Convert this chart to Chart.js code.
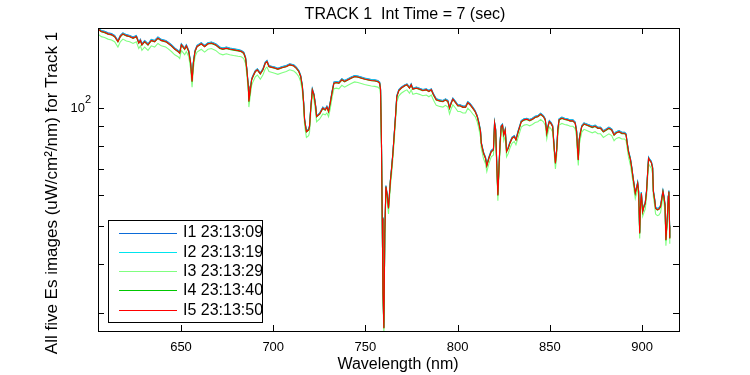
<!DOCTYPE html>
<html>
<head>
<meta charset="utf-8">
<script src="https://cdn.jsdelivr.net/npm/chart.js@4.4.0/dist/chart.umd.min.js"></script>
<style>
  html, body { margin: 0; padding: 0; background: #fff; }
</style>
</head>
<body>
<canvas id="esChart" width="750" height="375"></canvas>
<script>
// wavelength (nm) shared by all five images
const wavelength = [
  605.0,606.8,608.6,610.4,612.3,614.0,615.8,617.1,618.5,620.4,
  622.2,624.0,625.8,627.1,628.0,628.8,630.3,632.1,633.9,635.7,
  637.5,639.3,641.7,642.9,644.8,646.6,648.4,649.3,650.2,652.0,
  652.9,654.2,655.2,656.0,656.7,657.6,658.7,661.0,662.8,664.6,
  666.5,668.8,671.0,672.7,674.6,676.4,678.5,680.9,682.7,684.0,
  685.0,685.7,686.5,686.8,687.6,688.3,689.0,690.3,691.4,693.0,
  694.4,695.7,696.6,697.7,699.0,700.8,702.5,704.9,707.1,708.9,
  711.1,712.5,713.9,714.9,715.8,716.5,717.0,718.0,719.2,719.7,
  720.3,721.2,722.1,723.0,723.5,725.2,726.9,728.2,729.1,730.0,
  730.9,732.0,732.9,734.2,735.6,737.2,738.7,740.5,742.3,744.1,
  745.9,747.7,749.5,751.3,753.2,755.0,756.7,757.7,758.2,758.7,
  759.1,759.5,760.0,760.5,761.1,761.8,762.5,763.5,764.2,764.9,
  765.6,766.3,767.0,768.1,769.4,771.2,772.5,773.9,774.8,775.7,
  777.6,779.3,781.1,783.0,784.4,785.7,786.9,788.4,790.2,792.0,
  793.4,794.7,795.6,796.5,797.4,798.9,800.1,801.4,802.8,804.3,
  805.5,806.8,808.2,809.5,810.6,811.5,812.4,812.8,814.0,815.1,
  815.8,816.9,818.2,819.4,820.0,820.6,821.3,821.8,822.5,823.0,
  823.6,824.3,825.0,825.8,826.5,827.4,828.3,829.5,830.7,831.6,
  832.8,834.5,836.0,837.5,839.0,840.5,842.0,843.5,845.0,846.5,
  847.5,848.3,849.0,849.7,850.5,851.5,852.4,853.0,853.7,854.3,
  855.0,856.5,858.0,859.5,861.0,862.5,863.7,864.5,865.0,865.4,
  865.9,866.5,867.3,868.5,870.0,871.5,873.0,874.5,876.0,877.5,
  879.0,880.5,882.0,883.5,884.8,886.0,887.5,889.0,890.5,891.3,
  891.9,892.6,893.7,894.4,895.0,895.5,896.3,897.0,897.6,898.1,
  898.7,899.0,899.6,900.3,901.0,901.7,902.4,903.0,903.5,904.0,
  905.0,905.7,906.1,906.8,907.3,908.3,909.1,910.0,910.7,911.3,
  911.8,912.4,912.9,913.7,914.2,914.5,914.9,915.0
];

const i1Values = [
  160.0,157.7,156.9,155.5,154.8,153.2,148.7,153.2,155.5,153.9,
  153.2,151.7,153.2,147.4,149.7,145.9,148.7,145.9,149.7,148.7,
  151.7,149.7,148.7,147.4,145.0,142.3,140.3,138.9,145.9,142.3,
  145.0,140.3,131.1,117.6,131.1,140.3,144.5,146.8,144.5,146.8,
  147.4,145.9,143.1,142.3,143.1,142.3,141.7,141.1,140.3,138.9,
  134.9,125.9,114.1,104.6,112.0,118.8,121.1,124.7,125.9,123.0,
  125.9,131.1,132.3,128.4,127.9,127.2,126.4,127.6,128.4,129.7,
  128.9,127.2,124.7,121.1,114.1,103.6,93.9,87.6,88.5,90.3,
  99.5,112.0,108.7,101.6,95.7,97.2,100.6,99.5,101.2,98.5,
  103.6,110.9,116.5,116.9,116.5,118.8,117.6,118.8,120.0,121.1,
  120.7,120.0,119.3,118.8,118.3,118.1,117.6,116.5,112.0,81.1,
  52.7,33.9,27.7,48.3,63.5,60.4,56.0,65.4,70.8,77.3,
  86.0,95.7,107.6,111.5,113.1,114.6,115.3,113.1,115.3,112.4,
  113.1,112.4,111.5,112.0,110.9,112.0,108.7,105.6,105.0,104.6,
  105.6,104.6,100.6,103.6,106.0,103.9,102.0,102.0,101.2,101.2,
  103.9,102.6,100.6,98.5,95.7,92.1,87.6,81.9,77.3,75.0,
  71.8,75.0,78.0,78.8,92.1,88.5,70.0,60.4,72.9,81.9,
  90.3,91.1,86.0,88.5,78.0,79.5,81.9,84.3,85.1,83.5,
  87.6,92.9,93.9,94.2,93.5,94.2,95.3,95.7,97.0,95.7,
  93.9,86.8,90.3,92.9,92.1,90.3,78.8,72.9,78.8,88.5,
  93.9,94.8,94.2,93.9,93.3,93.3,92.1,87.6,78.8,74.3,
  83.5,86.8,90.3,91.7,91.1,90.5,89.9,90.5,89.4,89.4,
  87.6,88.5,89.4,88.5,86.0,87.1,87.6,86.8,86.8,86.0,
  81.9,78.0,74.3,70.8,67.3,64.8,61.1,62.9,64.8,61.7,
  48.3,55.4,61.1,54.8,56.5,57.6,61.7,68.7,75.0,74.3,
  73.2,70.8,61.7,58.8,56.0,55.5,55.7,56.5,59.3,61.7,
  59.9,57.1,46.4,53.2,59.9,61.7,50.3,46.9
];

const i2Values = [
  159.7,157.4,156.6,155.2,154.5,152.9,148.4,152.9,155.2,153.6,
  152.9,151.4,152.9,147.1,149.4,145.6,148.4,145.6,149.4,148.4,
  151.4,149.4,148.4,147.1,144.7,142.0,140.0,138.6,145.6,142.0,
  144.7,140.0,130.8,117.4,130.8,140.0,144.2,146.5,144.2,146.5,
  147.1,145.6,142.8,142.0,142.8,142.0,141.4,140.8,140.0,138.6,
  134.6,125.7,113.9,104.4,111.8,118.6,120.9,124.5,125.7,122.8,
  125.7,130.8,132.0,128.2,127.7,127.0,126.2,127.4,128.2,129.5,
  128.7,127.0,124.5,120.9,113.9,103.4,93.8,87.5,88.4,90.2,
  99.4,111.8,108.5,101.4,95.6,97.1,100.4,99.4,101.0,98.4,
  103.4,110.7,116.3,116.7,116.3,118.6,117.4,118.6,119.8,120.9,
  120.5,119.8,119.1,118.6,118.1,117.9,117.4,116.3,111.8,80.9,
  52.6,33.8,27.6,48.2,63.4,60.3,55.9,65.3,70.6,77.1,
  85.9,95.6,107.4,111.3,112.9,114.4,115.1,112.9,115.1,112.2,
  112.9,112.2,111.3,111.8,110.7,111.8,108.5,105.4,104.8,104.4,
  105.4,104.4,100.4,103.4,105.8,103.7,101.8,101.8,101.0,101.0,
  103.7,102.4,100.4,98.4,95.6,92.0,87.5,81.7,77.1,74.8,
  71.6,74.8,77.8,78.6,92.0,88.4,69.9,60.3,72.7,81.7,
  90.2,91.0,85.9,88.4,77.8,79.3,81.7,84.1,84.9,83.3,
  87.5,92.8,93.8,94.1,93.4,94.1,95.2,95.6,96.9,95.6,
  93.8,86.7,90.2,92.8,92.0,90.2,78.6,72.7,78.6,88.4,
  93.8,94.7,94.1,93.8,93.2,93.2,92.0,87.5,78.6,74.1,
  83.3,86.7,90.2,91.6,91.0,90.4,89.8,90.4,89.3,89.3,
  87.5,88.4,89.3,88.4,85.9,87.0,87.5,86.7,86.7,85.9,
  81.7,77.8,74.1,70.6,67.2,64.7,61.0,62.8,64.7,61.6,
  48.2,55.3,61.0,54.7,56.4,57.5,61.6,68.6,74.8,74.1,
  73.0,70.6,61.6,58.7,55.9,55.4,55.6,56.4,59.2,61.6,
  59.8,57.0,46.3,53.1,59.8,61.6,50.2,46.8
];

const i3Values = [
  154.4,152.1,151.3,149.9,149.2,147.6,143.1,147.6,149.9,148.3,
  147.6,146.1,147.6,141.8,144.1,140.3,143.1,140.3,144.1,143.1,
  146.1,144.1,143.1,141.8,139.4,136.7,135.2,133.8,140.3,136.7,
  139.4,135.2,126.0,113.1,126.0,135.2,138.9,141.2,138.9,141.2,
  141.8,140.3,137.5,136.7,137.5,136.7,136.1,135.5,135.2,133.8,
  129.8,121.4,110.1,100.6,108.0,114.3,116.6,120.2,121.4,118.5,
  121.4,126.0,127.2,123.9,123.4,122.7,121.9,123.1,123.9,125.2,
  124.4,122.7,120.2,116.6,110.1,99.6,90.5,84.2,85.1,86.9,
  96.1,108.0,104.7,97.6,92.3,93.8,96.6,96.1,97.2,95.1,
  99.6,106.9,112.0,112.4,112.0,114.3,113.1,114.3,115.5,116.6,
  116.2,115.5,114.8,114.3,113.8,113.6,113.1,112.0,108.0,78.2,
  50.9,32.7,26.5,46.5,61.2,58.1,53.7,63.1,67.9,74.4,
  82.6,92.3,103.6,107.5,109.1,110.6,111.3,109.1,111.3,108.4,
  109.1,108.4,107.5,108.0,106.9,108.0,104.7,101.6,101.0,100.6,
  101.6,100.6,96.6,99.6,102.0,99.9,98.0,98.0,97.2,97.2,
  99.9,98.6,96.6,95.1,92.3,88.7,84.2,79.0,74.4,72.1,
  68.9,72.1,75.1,75.9,88.7,85.1,67.7,58.1,70.0,79.0,
  86.9,87.7,82.6,85.1,75.1,76.6,79.0,81.4,82.2,80.6,
  84.2,89.5,90.5,90.8,90.1,90.8,91.9,92.3,93.6,92.3,
  90.5,83.4,86.9,89.5,88.7,86.9,75.9,70.0,75.9,85.1,
  90.5,91.4,90.8,90.5,89.9,89.9,88.7,84.2,75.9,71.4,
  80.6,83.4,86.9,88.3,87.7,87.1,86.5,87.1,86.0,86.0,
  84.2,85.1,86.0,85.1,82.6,83.7,84.2,83.4,83.4,82.6,
  79.0,75.1,71.4,67.9,65.0,62.5,58.8,60.6,62.5,59.4,
  46.5,53.2,58.8,53.0,54.2,55.3,59.4,66.4,72.1,71.4,
  70.3,67.9,59.4,56.5,53.7,53.2,53.4,54.2,57.0,59.4,
  57.6,54.8,44.6,51.4,57.6,59.4,48.5,45.1
];

const i4Values = [
  158.8,156.5,155.7,154.3,153.6,152.0,147.5,152.0,154.3,152.7,
  152.0,150.5,152.0,146.2,148.5,144.7,147.5,144.7,148.5,147.5,
  150.5,148.5,147.5,146.2,143.8,141.1,139.2,137.8,144.7,141.1,
  143.8,139.2,130.0,116.7,130.0,139.2,143.3,145.6,143.3,145.6,
  146.2,144.7,141.9,141.1,141.9,141.1,140.5,139.9,139.2,137.8,
  133.8,125.0,113.3,103.8,111.2,117.9,120.2,123.8,125.0,122.1,
  125.0,130.0,131.2,127.5,127.0,126.3,125.5,126.7,127.5,128.8,
  128.0,126.3,123.8,120.2,113.3,102.8,93.2,86.9,87.8,89.6,
  98.8,111.2,107.9,100.8,95.0,96.5,99.8,98.8,100.4,97.8,
  102.8,110.1,115.6,116.0,115.6,117.9,116.7,117.9,119.1,120.2,
  119.8,119.1,118.4,117.9,117.4,117.2,116.7,115.6,111.2,80.5,
  52.3,33.7,27.5,47.9,63.0,59.9,55.5,64.9,70.2,76.7,
  85.3,95.0,106.8,110.7,112.3,113.8,114.5,112.3,114.5,111.6,
  112.3,111.6,110.7,111.2,110.1,111.2,107.9,104.8,104.2,103.8,
  104.8,103.8,99.8,102.8,105.2,103.1,101.2,101.2,100.4,100.4,
  103.1,101.8,99.8,97.8,95.0,91.4,86.9,81.3,76.7,74.4,
  71.2,74.4,77.4,78.2,91.4,87.8,69.5,59.9,72.3,81.3,
  89.6,90.4,85.3,87.8,77.4,78.9,81.3,83.7,84.5,82.9,
  86.9,92.2,93.2,93.5,92.8,93.5,94.6,95.0,96.3,95.0,
  93.2,86.1,89.6,92.2,91.4,89.6,78.2,72.3,78.2,87.8,
  93.2,94.1,93.5,93.2,92.6,92.6,91.4,86.9,78.2,73.7,
  82.9,86.1,89.6,91.0,90.4,89.8,89.2,89.8,88.7,88.7,
  86.9,87.8,88.7,87.8,85.3,86.4,86.9,86.1,86.1,85.3,
  81.3,77.4,73.7,70.2,66.8,64.3,60.6,62.4,64.3,61.2,
  47.9,55.0,60.6,54.4,56.0,57.1,61.2,68.2,74.4,73.7,
  72.6,70.2,61.2,58.3,55.5,55.0,55.2,56.0,58.8,61.2,
  59.4,56.6,46.0,52.8,59.4,61.2,49.9,46.5
];

const i5Values = [
  159.1,156.8,156.0,154.6,153.9,152.3,147.8,152.3,154.6,153.0,
  152.3,150.8,152.3,146.5,148.8,145.0,147.8,145.0,148.8,147.8,
  150.8,148.8,147.8,146.5,144.1,141.4,139.5,138.1,145.0,141.4,
  144.1,139.5,130.3,116.9,130.3,139.5,143.6,145.9,143.6,145.9,
  146.5,145.0,142.2,141.4,142.2,141.4,140.8,140.2,139.5,138.1,
  134.1,125.2,113.5,104.0,111.4,118.1,120.4,124.0,125.2,122.3,
  125.2,130.3,131.5,127.7,127.2,126.5,125.7,126.9,127.7,129.0,
  128.2,126.5,124.0,120.4,113.5,103.0,93.4,87.1,88.0,89.8,
  99.0,111.4,108.1,101.0,95.2,96.7,100.0,99.0,100.6,98.0,
  103.0,110.3,115.8,116.2,115.8,118.1,116.9,118.1,119.3,120.4,
  120.0,119.3,118.6,118.1,117.6,117.4,116.9,115.8,111.4,80.6,
  52.4,33.7,27.5,48.0,63.1,60.0,55.6,65.0,70.3,76.8,
  85.5,95.2,107.0,110.9,112.5,114.0,114.7,112.5,114.7,111.8,
  112.5,111.8,110.9,111.4,110.3,111.4,108.1,105.0,104.4,104.0,
  105.0,104.0,100.0,103.0,105.4,103.3,101.4,101.4,100.6,100.6,
  103.3,102.0,100.0,98.0,95.2,91.6,87.1,81.4,76.8,74.5,
  71.3,74.5,77.5,78.3,91.6,88.0,69.6,60.0,72.4,81.4,
  89.8,90.6,85.5,88.0,77.5,79.0,81.4,83.8,84.6,83.0,
  87.1,92.4,93.4,93.7,93.0,93.7,94.8,95.2,96.5,95.2,
  93.4,86.3,89.8,92.4,91.6,89.8,78.3,72.4,78.3,88.0,
  93.4,94.3,93.7,93.4,92.8,92.8,91.6,87.1,78.3,73.8,
  83.0,86.3,89.8,91.2,90.6,90.0,89.4,90.0,88.9,88.9,
  87.1,88.0,88.9,88.0,85.5,86.6,87.1,86.3,86.3,85.5,
  81.4,77.5,73.8,70.3,66.9,64.4,60.7,62.5,64.4,61.3,
  48.0,55.1,60.7,54.5,56.1,57.2,61.3,68.3,74.5,73.8,
  72.7,70.3,61.3,58.4,55.6,55.1,55.3,56.1,58.9,61.3,
  59.5,56.7,46.1,52.9,59.5,61.3,50.0,46.6
];

const seriesLabels = ['I1 23:13:09', 'I2 23:13:19', 'I3 23:13:29', 'I4 23:13:40', 'I5 23:13:50'];
const seriesColors = ['#0b6bd8', '#00e4ee', '#80ff80', '#00c800', '#ff0000'];
const xTickValues = [650, 700, 750, 800, 850, 900];
const yTickValues = [30, 40, 50, 60, 70, 80, 90, 100];

const chartTitle = 'TRACK 1  Int Time = 7 (sec)';
const xAxisLabel = 'Wavelength (nm)';
const yAxisLabel = 'All five Es images (uW/cm\u00b2/nm) for Track 1';

const FONT = '"Liberation Sans", Arial, Helvetica, sans-serif';

const seriesValues = [i1Values, i2Values, i3Values, i4Values, i5Values];

// matlab style frame: box, inward ticks on all four sides, legend, labels
const framePlugin = {
  id: 'matlabFrame',
  afterDraw(chart) {
    const ctx = chart.ctx;
    const area = chart.chartArea;
    const xs = chart.scales.x;
    const ys = chart.scales.y;
    const tick = 6;

    ctx.save();
    ctx.strokeStyle = '#000';
    ctx.lineWidth = 1;

    // box
    ctx.strokeRect(area.left + 0.5, area.top + 0.5, area.right - area.left, area.bottom - area.top);

    // x ticks (bottom + top)
    ctx.beginPath();
    xTickValues.forEach(v => {
      const px = Math.round(xs.getPixelForValue(v)) + 0.5;
      ctx.moveTo(px, area.bottom);
      ctx.lineTo(px, area.bottom - tick);
      ctx.moveTo(px, area.top);
      ctx.lineTo(px, area.top + tick);
    });
    // y ticks (left + right)
    yTickValues.forEach(v => {
      const py = Math.round(ys.getPixelForValue(v)) + 0.5;
      ctx.moveTo(area.left, py);
      ctx.lineTo(area.left + tick, py);
      ctx.moveTo(area.right, py);
      ctx.lineTo(area.right - tick, py);
    });
    ctx.stroke();

    // y tick label 10^2
    ctx.fillStyle = '#000';
    const y100 = ys.getPixelForValue(100);
    ctx.font = '13px ' + FONT;
    ctx.textAlign = 'right';
    ctx.textBaseline = 'middle';
    ctx.fillText('10', 85, y100 + 0.5);
    ctx.font = '11px ' + FONT;
    ctx.textAlign = 'left';
    ctx.textBaseline = 'alphabetic';
    ctx.fillText('2', 85, y100 - 5);

    // title
    ctx.font = '16px ' + FONT;
    ctx.textAlign = 'center';
    ctx.textBaseline = 'alphabetic';
    ctx.fillText(chartTitle, 405, 18.5);

    // x axis label
    ctx.fillText(xAxisLabel, 398, 369);

    // y axis label
    ctx.save();
    ctx.font = '17px ' + FONT;
    ctx.translate(57, 193);
    ctx.rotate(-Math.PI / 2);
    ctx.fillText(yAxisLabel, 0, 0);
    ctx.restore();

    // legend
    const lx = 108, ly = 220, lw = 154, lh = 102;
    ctx.fillStyle = '#fff';
    ctx.fillRect(lx, ly, lw, lh);
    ctx.strokeStyle = '#000';
    ctx.strokeRect(lx + 0.5, ly + 0.5, lw, lh);
    ctx.font = '16px ' + FONT;
    ctx.textAlign = 'left';
    ctx.textBaseline = 'middle';
    seriesLabels.forEach((label, k) => {
      const rowY = 232.5 + k * 19.3;
      ctx.strokeStyle = seriesColors[k];
      ctx.lineWidth = 1;
      ctx.beginPath();
      ctx.moveTo(119, Math.round(rowY) + 0.5);
      ctx.lineTo(177, Math.round(rowY) + 0.5);
      ctx.stroke();
      ctx.fillStyle = '#000';
      ctx.fillText(label, 183, rowY + 0.5);
    });
    ctx.restore();
  }
};

const ctx = document.getElementById('esChart').getContext('2d');
new Chart(ctx, {
  type: 'line',
  data: {
    datasets: seriesValues.map((vals, k) => ({
      label: seriesLabels[k],
      data: wavelength.map((w, i) => ({ x: w, y: vals[i] })),
      borderColor: seriesColors[k],
      backgroundColor: seriesColors[k],
      borderWidth: 1.1,
      pointRadius: 0,
      tension: 0,
      fill: false,
      order: 4 - k
    }))
  },
  options: {
    responsive: false,
    animation: false,
    devicePixelRatio: 1,
    layout: {
      padding: { left: 98, right: 71, top: 28, bottom: 0 }
    },
    plugins: {
      legend: { display: false },
      title: { display: false },
      tooltip: { enabled: false }
    },
    scales: {
      x: {
        type: 'linear',
        min: 605,
        max: 920,
        grid: { display: false, drawTicks: false },
        border: { display: false },
        afterBuildTicks: scale => {
          scale.ticks = xTickValues.map(v => ({ value: v }));
        },
        afterFit: scale => { scale.height = 44; },
        ticks: {
          color: '#000',
          font: { family: FONT, size: 13 },
          padding: 9,
          maxRotation: 0,
          autoSkip: false
        }
      },
      y: {
        type: 'logarithmic',
        min: 27.04,
        max: 160,
        grid: { display: false, drawTicks: false },
        border: { display: false },
        ticks: { display: false },
        afterFit: scale => { scale.width = 0; }
      }
    }
  },
  plugins: [framePlugin]
});
</script>
</body>
</html>
